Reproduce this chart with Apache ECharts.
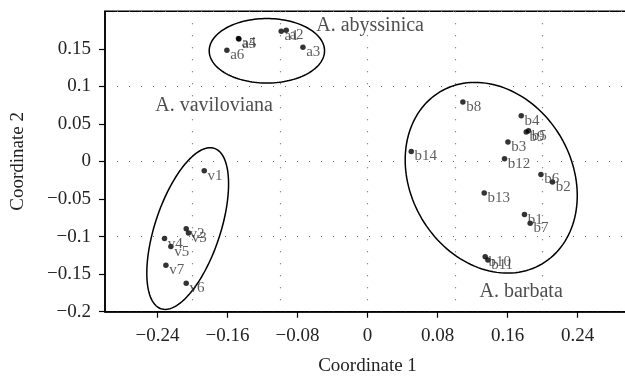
<!DOCTYPE html>
<html>
<head>
<meta charset="utf-8">
<script src="https://cdn.jsdelivr.net/npm/echarts@6/dist/echarts.min.js"></script>
<style>
  html, body { margin: 0; padding: 0; background: #fff; }
  #chart { width: 625px; height: 377px; }
</style>
</head>
<body>
<div id="chart"></div>
<script>
// ---- data -------------------------------------------------------------------
const aLabels = ['a1', 'a2', 'a3', 'a4', 'a5', 'a6'];
const aX = [-0.0986, -0.0929, -0.0738, -0.1474, -0.1470, -0.1607];
const aY = [0.1733, 0.1747, 0.1520, 0.1636, 0.1630, 0.1480];

const vLabels = ['v1', 'v2', 'v3', 'v4', 'v5', 'v6', 'v7'];
const vX = [-0.1866, -0.2072, -0.2046, -0.2320, -0.2247, -0.2072, -0.2304];
const vY = [-0.0124, -0.0897, -0.0951, -0.1027, -0.1133, -0.1621, -0.1381];

const bLabels = ['b1', 'b2', 'b3', 'b4', 'b5', 'b6', 'b7', 'b8', 'b9', 'b10', 'b11', 'b12', 'b13', 'b14'];
const bX = [0.1794, 0.2114, 0.1605, 0.1757, 0.1840, 0.1982, 0.1859, 0.1090, 0.1814, 0.1345, 0.1376, 0.1566, 0.1334, 0.0500];
const bY = [-0.0707, -0.0275, 0.0259, 0.0609, 0.0409, -0.0173, -0.0821, 0.0792, 0.0392, -0.1267, -0.1311, 0.0036, -0.0421, 0.0133];

// cluster ellipses: centre, half-axes (data units), tilt in degrees
const ellipseCx  = [-0.1150, -0.2055, 0.1414];
const ellipseCy  = [0.1473, -0.0893, -0.0217];
const ellipseRx  = [0.0659, 0.0373, 0.0921];
const ellipseRy  = [0.0429, 0.1125, 0.1331];
const ellipseRot = [0, 18.4, -30.6];

const groupNames = ['A. abyssinica', 'A. vaviloviana', 'A. barbata'];
const groupX = [-0.0586, -0.2426, 0.1280];
const groupY = [0.1810, 0.0745, -0.1740];

const xTicks = [-0.24, -0.16, -0.08, 0, 0.08, 0.16, 0.24];
const yTicks = [-0.2, -0.15, -0.1, -0.05, 0, 0.05, 0.1, 0.15];

// ---- helpers ----------------------------------------------------------------
const SERIF = '"Liberation Serif", "DejaVu Serif", serif';
const fmt = v => {
  const n = parseFloat(Number(v).toFixed(2));
  return n < 0 ? '\u2212' + Math.abs(n) : String(n);
};
const pts = (xs, ys, names) => xs.map((x, i) => ({ name: names[i], value: [x, ys[i]] }));

function pointSeries(xs, ys, names) {
  return {
    type: 'scatter', xAxisIndex: 0, yAxisIndex: 0,
    data: pts(xs, ys, names),
    symbolSize: 5.5, itemStyle: { color: '#000' },
    label: {
      show: true, position: 'right', distance: 0.5, offset: [0, 5],
      formatter: p => p.name,
      fontFamily: SERIF, fontSize: 15, color: '#333'
    },
    emphasis: { disabled: true }, z: 3
  };
}

const chart = echarts.init(document.getElementById('chart'), null, { renderer: 'canvas' });

const dotted = { color: '#666', type: [1, 11], width: 1.2 };
const txt = { fontFamily: SERIF, fontSize: 19, color: '#222' };

chart.setOption({
  animation: false,
  backgroundColor: '#fff',
  // right edge (0.3) falls just outside the picture, as in the reference
  grid: { left: 105, right: -5, top: 11.2, bottom: 65.3, outerBoundsMode: 'none',
          show: true, borderColor: '#000', borderWidth: 1.5 },
  xAxis: [
    { type: 'value', min: -0.3, max: 0.3, interval: 0.1,
      axisLine: { show: false }, axisTick: { show: false }, axisLabel: { show: false },
      splitLine: { show: true, lineStyle: dotted } },
    { type: 'value', min: -0.3, max: 0.3, position: 'bottom',
      axisLine: { show: true, onZero: false, lineStyle: { color: '#000', width: 1.5 } },
      axisTick: { show: true, length: 6, customValues: xTicks, lineStyle: { color: '#000', width: 1.2 } },
      axisLabel: Object.assign({ customValues: xTicks, formatter: fmt, margin: 15 }, txt),
      splitLine: { show: false },
      name: 'Coordinate 1', nameLocation: 'middle', nameGap: 45,
      nameTextStyle: txt }
  ],
  yAxis: [
    { type: 'value', min: -0.2, max: 0.2, interval: 0.1,
      axisLine: { show: false }, axisTick: { show: false }, axisLabel: { show: false },
      splitLine: { show: true, lineStyle: dotted } },
    { type: 'value', min: -0.2, max: 0.2, position: 'left',
      axisLine: { show: true, onZero: false, lineStyle: { color: '#000', width: 1.5 } },
      axisTick: { show: true, length: 6, customValues: yTicks, lineStyle: { color: '#000', width: 1.2 } },
      axisLabel: Object.assign({ customValues: yTicks, formatter: fmt, margin: 14 }, txt),
      splitLine: { show: false },
      name: 'Coordinate 2', nameLocation: 'middle', nameGap: 77, nameRotate: 90,
      nameTextStyle: txt }
  ],
  series: [
    {
      type: 'custom', xAxisIndex: 0, yAxisIndex: 0,
      encode: { x: 0, y: 1 },
      data: ellipseCx.map((cx, i) => [cx, ellipseCy[i], ellipseRx[i], ellipseRy[i], ellipseRot[i]]),
      renderItem: (params, api) => {
        const c = api.coord([api.value(0), api.value(1)]);
        const s = api.size([api.value(2), api.value(3)]);
        const rot = api.value(4) * Math.PI / 180;
        const ring = [];
        for (let k = 0; k < 144; k++) {
          const t = k / 144 * Math.PI * 2;
          const u = s[0] * Math.cos(t), v = s[1] * Math.sin(t);
          ring.push([c[0] + u * Math.cos(rot) - v * Math.sin(rot), c[1] + u * Math.sin(rot) + v * Math.cos(rot)]);
        }
        return { type: 'polygon', shape: { points: ring }, style: { fill: 'none', stroke: '#000', lineWidth: 1.5 } };
      },
      silent: true, z: 2
    },
    pointSeries(aX, aY, aLabels),
    pointSeries(vX, vY, vLabels),
    pointSeries(bX, bY, bLabels),
    {
      type: 'scatter', xAxisIndex: 0, yAxisIndex: 0,
      data: pts(groupX, groupY, groupNames),
      symbolSize: 0,
      label: { show: true, position: 'right', distance: 0, formatter: p => p.name,
               fontFamily: SERIF, fontSize: 20, color: '#222' },
      silent: true, z: 4
    }
  ]
});
</script>
</body>
</html>
